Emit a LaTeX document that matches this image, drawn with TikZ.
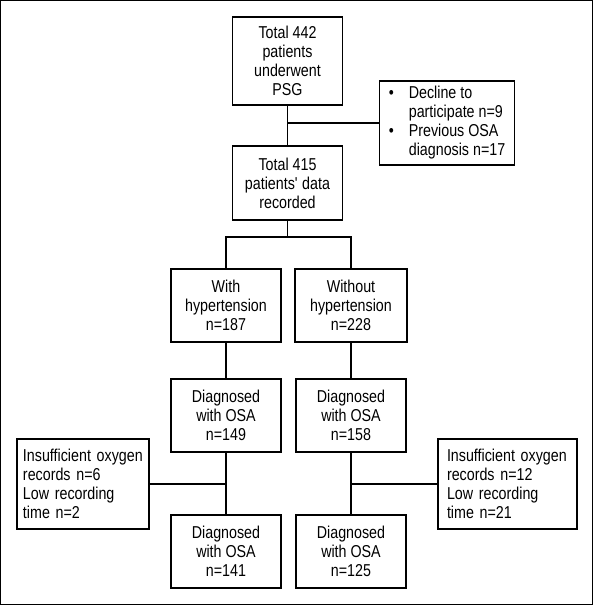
\documentclass[tikz,border=0pt]{standalone}
\usepackage{fontspec}
\setmainfont{Liberation Sans}[FakeStretch=0.83]
\begin{document}
\begin{tikzpicture}[x=1pt,y=-1pt,line width=1.1pt,
  txt/.style={font=\fontsize{17.2}{19}\selectfont},
  mainbox/.style={txt,draw,align=center,inner sep=0pt,minimum width=110pt,minimum height=73pt},
  sidebox/.style={txt,draw,align=left,inner ysep=0pt,minimum height=90pt},
  frame/.style={draw,line width=1.3pt}]
\useasboundingbox (0,0) rectangle (594,606);
\draw[frame] (0.7,0.7) rectangle (592.3,604.8);
\node[mainbox,minimum height=88pt] (b1) at (287.5,61) {Total 442\\patients\\underwent\\PSG};
\node[txt,draw,inner xsep=8pt,inner ysep=0pt,minimum width=135pt,minimum height=84pt,anchor=west] (ex1) at (379,123)
  {\begin{tabular}{@{}p{20pt}@{}l@{}}\textbullet & Decline to\\ & participate n=9\\ \textbullet & Previous OSA\\ & diagnosis n=17\end{tabular}};
\node[mainbox,minimum height=74pt] (b2) at (287.5,183) {Total 415\\patients\textquotesingle{} data\\recorded};
\node[mainbox] (wh) at (226,305.5) {With\\hypertension\\n=187};
\node[mainbox,minimum width=112pt] (woh) at (351,305.5) {Without\\hypertension\\n=228};
\node[mainbox] (d1) at (226,415.5) {Diagnosed\\with OSA\\n=149};
\node[mainbox] (d2) at (351,415.5) {Diagnosed\\with OSA\\n=158};
\node[mainbox] (d3) at (226,551.5) {Diagnosed\\with OSA\\n=141};
\node[mainbox] (d4) at (351,551.5) {Diagnosed\\with OSA\\n=125};
\node[sidebox,inner xsep=6pt,text width=120pt] (exL) at (83,484) {Insufficient oxygen\\records n=6\\Low recording\\time n=2};
\node[sidebox,inner xsep=9pt,text width=121pt] (exR) at (507.5,484) {Insufficient oxygen\\records n=12\\Low recording\\time n=21};
\coordinate (j1) at (287.5,237);
\draw (b1) -- (b2);
\draw (ex1.west) -- (ex1.west -| b1);
\draw (b2.south) -- (j1);
\draw (wh.north) |- (j1) -| (woh.north);
\draw (wh) -- (d1);
\draw (woh) -- (d2);
\draw (d1) -- (d3);
\draw (d2) -- (d4);
\draw (exL.east) -- (exL.east -| d1);
\draw (exR.west) -- (exR.west -| d2);
\end{tikzpicture}
\end{document}
